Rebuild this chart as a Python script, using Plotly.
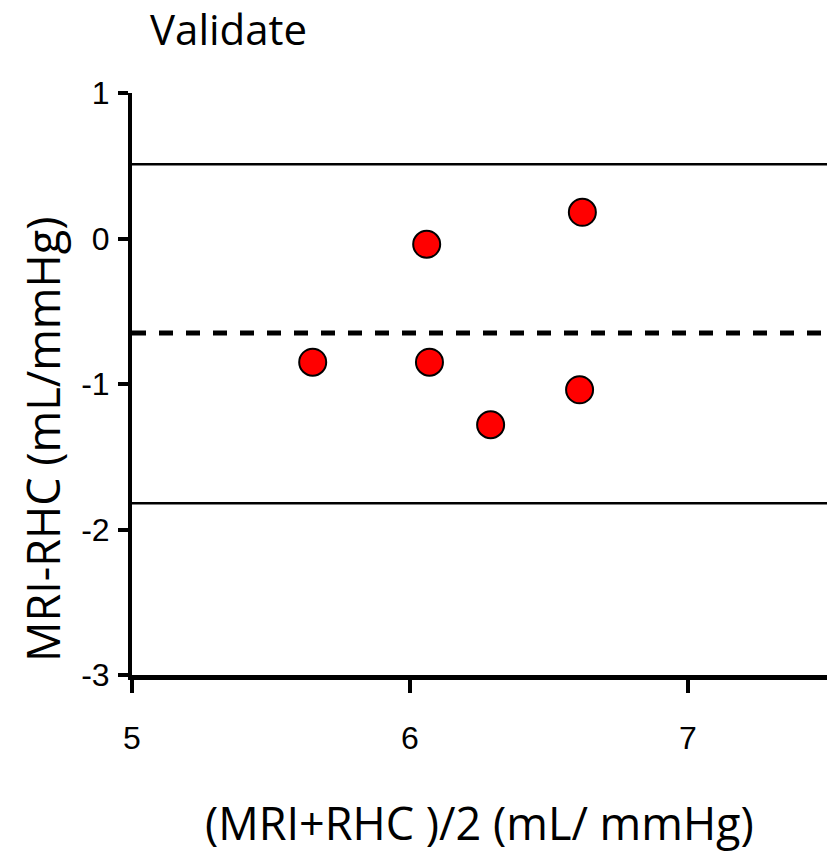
import plotly.graph_objects as go

# Data
mean_x = [5.65, 6.06, 6.07, 6.29, 6.62, 6.61]
diff_y = [-0.85, -0.04, -0.85, -1.28, 0.18, -1.04]
upper_loa = 0.51
bias = -0.65
lower_loa = -1.82
x_ticks = [5, 6, 7]
x_tick_labels = ["5", "6", "7"]
y_ticks = [1, 0, -1, -2, -3]
y_tick_labels = ["1", "0", "-1", "-2", "-3"]
x_range = [5, 7.5]
y_range = [-3, 1]

title_text = "Validate"
x_title = "(MRI+RHC )/2 (mL/ mmHg)"
y_title = "MRI-RHC (mL/mmHg)"

text_font = "Open Sans, Noto Sans, sans-serif"
tick_font = "Liberation Sans Narrow, Liberation Sans, Arial, sans-serif"

W, H = 827, 853
L, R, T, B = 132, 0, 93, 178
pw, ph = W - L - R, H - T - B

def px_to_paper(px, py):
    return (px - L) / pw, (H - B - py) / ph

fig = go.Figure()
fig.add_trace(go.Scatter(
    x=mean_x, y=diff_y, mode="markers",
    marker=dict(symbol="circle", size=27, color="#FF0000",
                line=dict(color="black", width=2)),
    showlegend=False, cliponaxis=False,
))

for val, dash, w in [(upper_loa, "solid", 2.5), (lower_loa, "solid", 2.5), (bias, "14px,13px", 5)]:
    fig.add_shape(type="line", xref="paper", x0=0, x1=1, yref="y", y0=val, y1=val,
                  line=dict(color="black", width=w, dash=dash), layer="below")

xt_x, xt_y = px_to_paper(480, 822)
fig.add_annotation(text=x_title, xref="paper", yref="paper",
                   x=xt_x, y=xt_y, xanchor="center", yanchor="middle",
                   showarrow=False,
                   font=dict(family=text_font, size=45, color="black"))
yt_x, yt_y = px_to_paper(42, 440)
fig.add_annotation(text=y_title, xref="paper", yref="paper",
                   x=yt_x, y=yt_y, xanchor="center", yanchor="middle",
                   textangle=-90, showarrow=False,
                   font=dict(family=text_font, size=45, color="black"))

fig.update_layout(
    width=W, height=H,
    margin=dict(l=L, r=R, t=T, b=B),
    paper_bgcolor="white", plot_bgcolor="white",
    title=dict(text=title_text, xref="container", yref="container",
               x=150/W, xanchor="left", y=1-30/H, yanchor="middle",
               font=dict(family=text_font, size=42, color="black")),
    xaxis=dict(range=x_range, tickvals=x_ticks, ticktext=x_tick_labels,
               showgrid=False, zeroline=False,
               showline=True, linewidth=5, linecolor="black",
               ticks="outside", ticklen=13, tickwidth=4, tickcolor="black",
               ticklabelstandoff=18,
               tickfont=dict(family=tick_font, size=32, color="black")),
    yaxis=dict(range=y_range, tickvals=y_ticks, ticktext=y_tick_labels,
               showgrid=False, zeroline=False,
               showline=True, linewidth=4, linecolor="black",
               ticks="outside", ticklen=10, tickwidth=4, tickcolor="black",
               ticklabelstandoff=2,
               tickfont=dict(family=tick_font, size=32, color="black")),
)

fig.write_html("out.html")
